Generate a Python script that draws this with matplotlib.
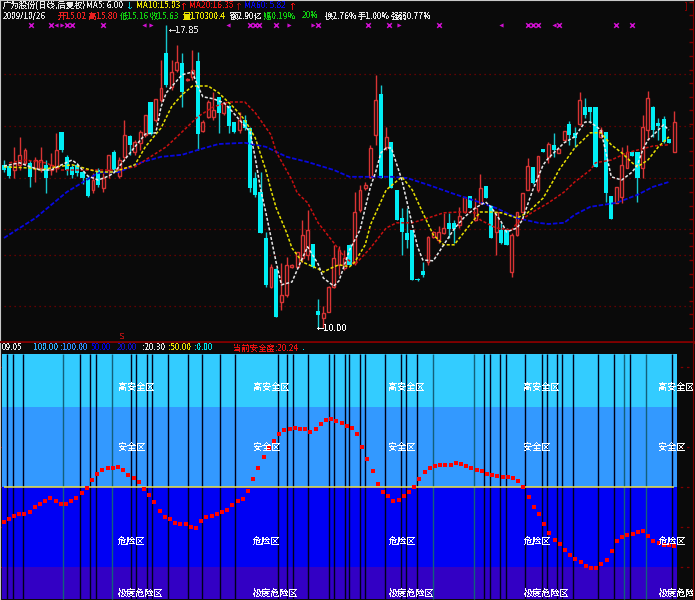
#! /usr/bin/env python

# candlestick panel with moving averages, safety index panel below.

import matplotlib
matplotlib.use('Agg')

import numpy as np
import matplotlib.pyplot as plt

plt.rcParams['font.family'] = ['Noto Sans CJK SC', 'DejaVu Sans']
plt.rcParams['text.antialiased'] = False

# r = rising day, c = falling day
day_types = ("ccrrrcrrcr" "rccccccrcr" "rcrrcrrrcr" "rcrrcrrcrr" "rcrccrcccc"
             "crcrrrrrrc" "crrrrrcrrr" "rrcrcccccc" "crrrrccrrc" "rrccrccrrr"
             "rcrcrcrrcc" "rcccrccrrr" "ccrrccccr")

highs = [14.20, 14.08, 14.53, 14.78, 14.50, 14.20, 14.28, 14.53, 14.20, 14.38,
         14.88, 14.90, 14.33, 14.08, 14.13, 13.95, 13.80, 13.88, 14.00, 13.88,
         14.33, 14.45, 14.28, 15.20, 14.83, 14.70, 14.95, 15.33, 15.65, 15.73,
         16.70, 17.58, 16.70, 17.08, 16.88, 16.25, 16.95, 16.90, 15.20, 15.70,
         15.90, 15.78, 15.65, 15.58, 15.15, 15.40, 15.33, 15.03, 13.90, 13.90,
         12.40, 11.60, 11.50, 11.63, 11.78, 11.60, 11.90, 12.70, 12.95, 12.10,
         10.73, 10.55, 11.05, 12.08, 12.05, 11.95, 12.10, 13.40, 13.58, 13.65,
         14.58, 16.33, 16.08, 15.03, 14.65, 13.45, 13.00, 13.00, 12.45, 11.25,
         11.65, 12.30, 12.43, 12.55, 12.88, 12.88, 12.70, 13.03, 13.28, 13.30,
         13.25, 13.85, 13.55, 13.08, 12.90, 12.63, 12.50, 12.38, 12.90, 13.38,
         14.25, 14.03, 14.30, 14.48, 14.65, 14.88, 14.48, 14.93, 15.18, 15.03,
         15.90, 15.75, 15.53, 15.53, 15.03, 14.90, 13.30, 13.53, 14.53, 14.58,
         14.40, 14.40, 15.33, 15.93, 15.55, 15.25, 15.30, 14.73, 15.43]

body_tops = [14.08, 14.05, 14.13, 14.33, 14.45, 14.13, 14.20, 14.20, 14.08, 14.08,
             14.45, 14.90, 14.28, 14.03, 14.08, 13.90, 13.75, 13.70, 13.95, 13.75,
             14.33, 14.40, 14.20, 14.83, 14.80, 14.65, 14.90, 15.33, 15.65, 15.73,
             16.00, 16.88, 16.40, 16.65, 16.63, 16.23, 16.45, 16.68, 15.15, 15.65,
             15.45, 15.78, 15.63, 15.55, 15.15, 15.20, 15.20, 15.00, 13.75, 13.40,
             12.25, 11.53, 11.48, 10.83, 11.58, 11.58, 11.90, 12.33, 12.45, 12.10,
             10.43, 10.38, 11.03, 11.75, 11.95, 11.75, 12.08, 12.90, 13.45, 13.58,
             14.50, 15.70, 15.85, 14.78, 14.65, 13.45, 12.75, 12.38, 12.45, 11.23,
             11.43, 12.28, 12.40, 12.40, 12.50, 12.63, 12.63, 12.80, 13.28, 13.30,
             13.00, 13.50, 13.55, 13.05, 12.90, 12.45, 12.45, 12.33, 12.90, 13.38,
             14.05, 14.03, 14.30, 14.48, 14.60, 14.58, 14.48, 14.93, 15.10, 14.88,
             15.70, 15.53, 15.53, 15.53, 14.95, 14.90, 13.30, 13.53, 14.08, 14.40,
             14.40, 14.40, 15.03, 15.75, 15.53, 15.13, 15.23, 14.73, 15.15]

body_bottoms = [13.95, 13.80, 13.95, 14.08, 14.13, 13.78, 14.00, 14.00, 13.75, 13.95,
                14.00, 14.45, 13.95, 13.83, 13.88, 13.75, 13.30, 13.45, 13.58, 13.50,
                13.95, 13.95, 13.80, 14.28, 14.58, 14.40, 14.63, 14.83, 14.85, 15.20,
                15.70, 16.08, 16.03, 16.45, 15.90, 16.20, 16.28, 14.85, 14.93, 15.28,
                15.28, 15.38, 15.38, 15.05, 14.90, 14.95, 15.00, 13.50, 13.33, 12.38,
                11.08, 11.03, 10.28, 10.65, 10.83, 11.53, 11.53, 11.75, 11.83, 11.53,
                10.33, 10.25, 10.40, 11.03, 11.58, 11.50, 11.58, 11.63, 12.95, 13.50,
                13.78, 14.83, 13.75, 14.53, 13.50, 12.70, 12.40, 12.20, 11.20, 11.20,
                11.33, 11.65, 12.28, 12.20, 12.38, 12.48, 12.48, 12.58, 12.90, 13.00,
                12.70, 13.13, 13.25, 12.25, 12.40, 12.13, 12.08, 11.40, 12.33, 12.90,
                13.45, 13.63, 13.45, 14.40, 14.28, 14.45, 14.38, 14.70, 14.83, 14.75,
                15.10, 15.33, 15.40, 14.03, 14.78, 13.38, 12.73, 13.13, 13.28, 14.00,
                14.30, 13.75, 14.00, 14.95, 14.95, 15.05, 14.65, 14.63, 14.40]

lows = [13.90, 13.75, 13.75, 13.95, 14.08, 13.53, 13.65, 13.90, 13.38, 13.83,
        13.90, 14.40, 13.83, 13.75, 13.80, 13.60, 13.28, 13.38, 13.53, 13.40,
        13.75, 13.90, 13.75, 14.20, 14.33, 14.33, 14.45, 14.78, 14.83, 15.15,
        15.65, 16.03, 15.95, 16.40, 15.53, 16.18, 16.20, 14.45, 14.90, 15.25,
        15.20, 14.88, 15.33, 14.88, 14.88, 14.88, 14.95, 13.40, 13.28, 12.38,
        11.03, 11.00, 10.28, 10.45, 10.78, 11.50, 11.50, 11.65, 11.70, 11.50,
        10.00, 10.00, 10.40, 11.00, 11.33, 11.45, 11.55, 11.58, 12.90, 13.45,
        13.75, 14.58, 13.75, 14.45, 13.50, 12.70, 11.83, 12.00, 11.20, 11.18,
        11.28, 11.58, 12.25, 12.13, 12.35, 12.25, 12.13, 12.50, 12.88, 13.00,
        12.68, 13.10, 13.25, 12.25, 11.83, 12.10, 12.08, 11.28, 12.30, 12.90,
        13.45, 13.60, 13.40, 14.40, 14.13, 14.28, 14.38, 14.70, 14.58, 14.53,
        15.08, 15.25, 15.13, 14.03, 14.75, 13.15, 12.73, 13.13, 13.13, 14.00,
        14.30, 13.15, 13.75, 14.70, 14.78, 14.70, 14.63, 14.63, 14.40]

ma5_days = [0, 3, 5, 7, 9, 11, 13, 14, 16, 18, 20, 21, 23, 25, 27, 29, 30, 31, 32, 34,
            36, 37, 38, 40, 42, 43, 45, 47, 48, 49, 50, 52, 53, 55, 57, 58, 60, 61, 63, 64,
            66, 68, 69, 70, 71, 72, 73, 74, 76, 78, 79, 80, 82, 84, 86, 88, 90, 92, 93, 95,
            96, 98, 99, 101, 103, 104, 107, 109, 111, 112, 114, 115, 116, 118, 120, 121,
            122, 123, 125, 126, 127]
ma5 = [14.05, 14.13, 14.03, 13.95, 13.95, 14.08, 14.20, 14.10, 13.80, 13.70, 13.80, 13.88,
       14.20, 14.53, 14.85, 14.88, 15.53, 15.88, 16.03, 16.33, 16.40, 16.05, 15.78, 15.73,
       15.63, 15.50, 15.20, 14.90, 14.25, 13.48, 12.90, 11.63, 11.08, 11.15, 11.75, 12.03,
       11.60, 11.25, 11.05, 11.18, 11.95, 12.45, 13.00, 13.53, 13.90, 14.38, 14.50, 14.50,
       13.70, 12.58, 12.03, 11.70, 11.68, 12.08, 12.48, 12.78, 13.00, 13.15, 13.03, 12.65,
       12.40, 12.50, 12.70, 13.45, 14.08, 14.25, 14.63, 14.78, 15.15, 15.15, 14.95, 14.38,
       13.78, 13.70, 13.90, 14.08, 14.45, 14.70, 14.95, 15.08, 14.95]

ma10_days = [0, 5, 7, 10, 13, 18, 21, 25, 27, 30, 32, 34, 36, 39, 41, 44, 46, 48, 50, 51,
             52, 54, 55, 57, 60, 61, 63, 64, 66, 67, 69, 70, 73, 76, 78, 80, 82, 84, 86, 89,
             91, 93, 95, 98, 100, 103, 105, 106, 109, 111, 112, 114, 116, 118, 120, 121,
             123, 125, 127]
ma10 = [14.03, 14.00, 13.95, 14.03, 14.08, 13.90, 13.90, 14.08, 14.53, 15.00, 15.53, 15.83,
        16.05, 16.05, 15.88, 15.50, 15.20, 14.75, 13.95, 13.45, 13.00, 12.38, 12.00, 11.65,
        11.48, 11.40, 11.53, 11.58, 11.53, 11.65, 12.08, 12.58, 13.45, 13.78, 13.45, 12.88,
        12.33, 12.08, 12.08, 12.58, 12.90, 12.90, 12.88, 12.75, 12.88, 13.25, 13.70, 13.95,
        14.50, 14.75, 14.88, 14.88, 14.58, 14.38, 14.13, 14.03, 14.20, 14.53, 14.78]

ma20_days = [1, 4, 8, 11, 16, 21, 25, 27, 31, 34, 37, 40, 43, 46, 48, 51, 52, 55, 56, 58,
             60, 63, 65, 67, 70, 73, 75, 78, 81, 84, 87, 90, 91, 94, 97, 98, 101, 104, 107,
             109, 112, 113, 116, 119, 124, 127]
ma20 = [14.13, 14.20, 14.13, 13.95, 13.95, 13.95, 14.03, 14.20, 14.53, 14.90, 15.28, 15.53,
        15.65, 15.65, 15.38, 14.83, 14.40, 13.70, 13.38, 13.13, 12.63, 12.13, 11.78, 11.58,
        12.00, 12.50, 12.63, 12.63, 12.75, 12.88, 12.90, 12.88, 12.70, 12.50, 12.45, 12.63,
        12.90, 13.13, 13.40, 13.65, 13.95, 14.13, 14.20, 14.38, 14.55, 14.58]

ma60_days = [0, 6, 12, 18, 22, 26, 30, 34, 37, 41, 46, 50, 54, 58, 63, 66, 74, 77, 81, 86,
             90, 94, 98, 102, 104, 107, 109, 112, 117, 121, 124, 127]
ma60 = [12.25, 12.75, 13.40, 13.88, 13.90, 14.13, 14.28, 14.33, 14.45, 14.60, 14.63, 14.53,
        14.28, 14.15, 13.95, 13.78, 13.78, 13.75, 13.58, 13.35, 13.18, 13.00, 12.75, 12.63,
        12.60, 12.63, 12.83, 13.03, 13.13, 13.33, 13.53, 13.65]

grid_prices = [16.35, 15.05, 13.75, 12.48, 11.83, 10.55]

cross_days = [5.2, 9, 12, 13, 19, 47, 48, 48.7, 52, 60, 69.5, 73.5, 83, 100, 101, 102, 106, 117, 120]
left_days = [10, 26.7, 42.8, 95, 105]
right_days = [11, 28, 54.5, 59, 75.5]

safety = [37.0, 38.0, 39.1, 39.7, 39.7, 40.6, 42.4, 43.7, 44.7, 45.7,
          44.9, 43.7, 43.7, 44.7, 46.0, 47.6, 49.7, 52.6, 54.7, 56.5,
          57.2, 57.1, 57.4, 56.4, 54.5, 53.2, 51.7, 49.2, 46.9, 44.5,
          41.1, 38.9, 38.0, 36.6, 36.1, 36.1, 35.1, 34.7, 37.2, 38.6,
          39.0, 39.7, 40.6, 41.4, 43.2, 44.9, 45.6, 48.5, 52.9, 57.1,
          61.1, 64.5, 67.1, 69.7, 71.4, 71.9, 72.2, 71.9, 71.6, 70.6,
          71.6, 73.5, 75.0, 75.5, 74.9, 73.9, 72.9, 72.0, 70.0, 65.1,
          60.6, 56.0, 51.2, 48.0, 46.6, 44.9, 45.2, 46.6, 48.1, 50.1,
          52.9, 55.5, 57.2, 57.9, 58.2, 58.4, 58.4, 58.9, 58.5, 57.7,
          57.1, 56.5, 56.0, 54.9, 54.5, 54.2, 53.6, 53.6, 53.5, 52.4,
          50.1, 46.2, 42.6, 39.7, 36.2, 32.9, 30.2, 28.5, 26.4, 24.6,
          23.0, 22.0, 20.4, 19.5, 19.5, 21.0, 22.5, 26.1, 29.7, 31.3,
          32.1, 32.2, 33.0, 33.4, 31.7, 29.9, 29.1, 28.2, 28.2, 28.0]

signal_days = [0.6, 1.7, 3.7, 14.6, 16.6, 17.7, 24.5, 25.5, 27.6, 28.6, 31.7, 35.5, 38.1,
               41.6, 44.6, 52.7, 54.6, 55.6, 58.6, 62.5, 63.6, 65.6, 66.5, 68.6, 69.5, 73.4,
               76.5, 77.5, 79.5, 92.5, 93.5, 95.5, 96.7, 100.4, 103.5, 104.5, 106.5, 107.5,
               109.6, 114.4, 117.5, 120.5, 128.5]
weak_days = [11.5, 20.8, 82.6, 90.5, 119.4, 123.6]

zone_levels = [100, 80, 50, 20, 8]
zone_colors = ['#33ccff', '#3399ff', '#0000f4', '#3300c4']
zone_names = ['高安全区', '安全区', '危险区', '极度危险区']
zone_text_levels = [87.5, 65, 29.6, 10.0]
zone_text_days = [22, 48, 74, 100, 126]
safe_ticks = [95, 65, 50, 35, 20]

bg = '#0a0a0a'
dark_red = '#800000'

fig = plt.figure(figsize=(6.95, 6.00), dpi=100, facecolor=bg)

# price panel
ax = fig.add_axes([0, 258 / 600, 693 / 695, 342 / 600], facecolor=bg)
ax.set_xlim(-4 / 5.235, 689 / 5.235)
ax.set_ylim(9.65, 18.2)

ax.hlines(grid_prices, -1, 135, colors=dark_red, linestyles=(0, (1, 3)), lw=0.9, zorder=1)

days = np.arange(len(highs))
up = np.array([c == 'r' for c in day_types])
highs = np.array(highs)
lows = np.array(lows)
body_tops = np.array(body_tops)
body_bottoms = np.array(body_bottoms)

ax.vlines(days[up], body_tops[up], highs[up], colors='#d83434', lw=1, zorder=2)
ax.vlines(days[up], lows[up], body_bottoms[up], colors='#d83434', lw=1, zorder=2)
ax.vlines(days[~up], lows[~up], highs[~up], colors='#16c8d0', lw=1, zorder=2)
ax.bar(days[up], body_tops[up] - body_bottoms[up], bottom=body_bottoms[up], width=0.55,
       facecolor=bg, edgecolor='#d83434', lw=1, zorder=3)
ax.bar(days[~up], body_tops[~up] - body_bottoms[~up], bottom=body_bottoms[~up], width=0.8,
       color='#00eef4', lw=0, zorder=3)

ax.plot(ma60_days, ma60, color='#0808e0', lw=1.3, ls=(0, (2.5, 1)), zorder=4)
ax.plot(ma20_days, ma20, color='#c81010', lw=1.1, ls=(0, (2, 1.2)), zorder=5)
ax.plot(ma10_days, ma10, color='#e8e000', lw=1.1, ls=(0, (2, 1.2)), zorder=6)
ax.plot(ma5_days, ma5, color='#e8e8e8', lw=1.1, ls=(0, (2, 1.2)), zorder=7)

ax.scatter(cross_days, [17.58] * len(cross_days), marker='x', s=11, lw=1.1, color='#d010d0', zorder=8)
ax.scatter(left_days, [17.58] * len(left_days), marker='<', s=9, lw=0, color='#d010d0', zorder=8)
ax.scatter(right_days, [17.58] * len(right_days), marker='>', s=9, lw=0, color='#d010d0', zorder=8)

ax.text(31.5, 17.43, '←17.85', color='#d8d8d8', fontsize=6, va='center', zorder=9,
        family=['DejaVu Sans'])
ax.text(59.8, 9.98, '←10.00', color='white', fontsize=6, va='center', zorder=9,
        family=['DejaVu Sans'])
ax.text(22.5, 9.78, 'S', color='#a01010', fontsize=6.5, ha='center', va='center', fontweight='bold')

ax.set_xticks([])
ax.set_yticks(np.arange(10, 18.2, 0.34))
ax.tick_params(axis='y', direction='in', left=False, right=True, labelleft=False, length=3,
               color=dark_red, width=1)
for side in ['left', 'top']:
    ax.spines[side].set_color('#c8c8c8')
ax.spines['right'].set_color(dark_red)
ax.spines['bottom'].set_color(dark_red)
ax.spines['bottom'].set_linewidth(2)

# safety index panel
ax2 = fig.add_axes([0, 0, 693 / 695, 257 / 600], facecolor=bg)
ax2.set_xlim(-3.7 / 5.197, 689.3 / 5.197)
ax2.set_ylim(7.6, 104)

ax2.hlines(safe_ticks, -1, 135, colors=dark_red, linestyles=(0, (2, 3)), lw=0.9, zorder=1)

zone_x = [-0.33, 129.5]
for i in range(4):
    ax2.fill_between(zone_x, zone_levels[i + 1], zone_levels[i], color=zone_colors[i], lw=0, zorder=2)

ax2.vlines(weak_days, 8, 100, colors='#14607a', lw=1, zorder=3)
ax2.vlines(signal_days, 8, 100, colors='#000018', lw=1, zorder=3)
ax2.hlines(50, 0, 129, colors='#f0e040', lw=1.1, zorder=4)
ax2.scatter(np.arange(len(safety)), safety, marker='s', s=8, color='#ff0000', lw=0, zorder=5)

for name, level in zip(zone_names, zone_text_levels):
    for d in zone_text_days:
        t = ax2.text(d, level, name, color='white', fontsize=6.6, va='center', zorder=6)
        t.set_clip_on(True)

ax2.set_xticks([])
ax2.set_yticks([])
ax2.spines['top'].set_visible(False)
ax2.spines['left'].set_color('#c8c8c8')
ax2.spines['right'].set_color(dark_red)
ax2.spines['bottom'].set_color('#500000')

# header rows, placed by pixel on the figure
row1 = [(3, '广为股份(日线,后复权)', '#e8e8e8'), (86, 'MA5: 6.00', '#e8e8e8'), (126, '↓', '#00c8d0'),
        (136, 'MA10:15.03', '#e8e000'), (180, '↑', '#e81010'), (189, 'MA20:16.35', '#e81010'),
        (235, '↑', '#a01010'), (244, 'MA60: 5.82', '#0808e0'), (289, '↑', '#e81010'),
        (685, ']', dark_red)]
row2 = [(3, '2009/10/26', '#e8e8e8'), (58, '开15.02', '#e82020'), (89, '高15.80', '#e82020'),
        (120, '低15.16', '#10c810'), (150, '收15.63', '#10c810'), (183, '量170300.4', '#e8e000'),
        (230, '额2.90亿', '#e8e8e8'), (263, '幅0.19%', '#10c810'), (302, '20%', '#10c810'),
        (325, '换2.76%', '#e8e8e8'), (358, '手1.00%', '#e8e8e8'), (391, '强弱0.77%', '#e8e8e8')]
row3 = [(2, '09.05', '#e8e8e8'), (33, '100.00', '#30b0ff'), (60, ':100.00', '#3090ff'),
        (91, '50.00', '#0000e0'), (117, '20.00', '#1010c0'), (142, ':20.30', '#e8e8e8'),
        (168, ':50.00', '#e8e000'), (194, ':0.00', '#00e0e8'), (233, '当前安全度:20.24', '#e81010'),
        (302, '.', '#00e0e8')]

for row, y in [(row1, 6), (row2, 16), (row3, 348)]:
    for x, s, c in row:
        fig.text(x / 695, 1 - y / 600, s, color=c, fontsize=6.0, va='center')

fig.savefig('out.png', dpi=100, facecolor=bg)
